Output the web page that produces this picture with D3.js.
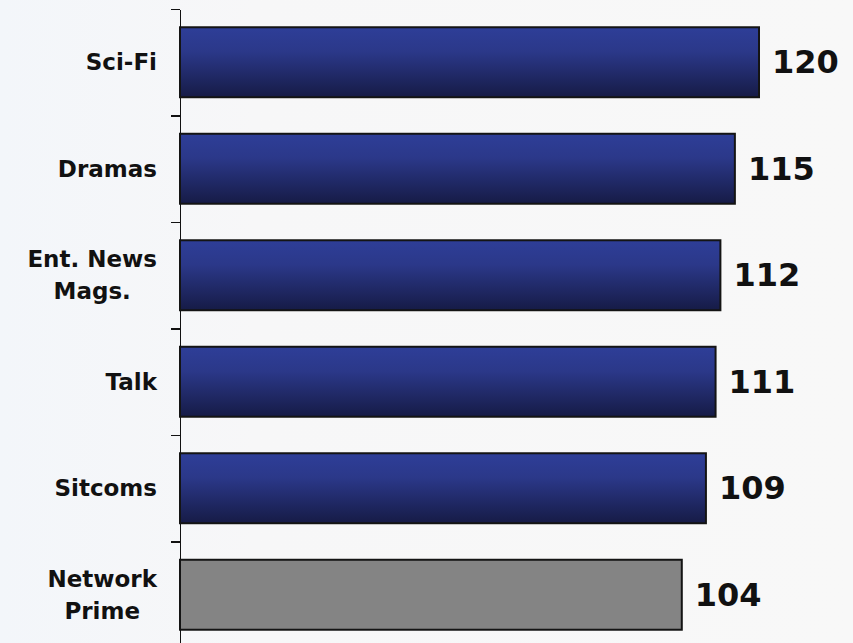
<!DOCTYPE html>
<html>
<head>
    <meta charset="utf-8">
    <title>Index by genre - horizontal bars</title>
    <style>
        body {
            margin: 0;
            padding: 0;
            background: #f7f7f7;
        }

        svg {
            display: block;
        }

        .label {
            font-family: "DejaVu Sans", Verdana, sans-serif;
            font-weight: bold;
            fill: #111;
        }

        .axis path,
        .axis line {
            fill: none;
            stroke: #111;
            stroke-width: 1.5px;
            shape-rendering: crispEdges;
        }
    </style>
    <script src="https://d3js.org/d3.v7.min.js"></script>
</head>
<body>
<script type="application/javascript">
  // categories top to bottom, each label split on its line breaks
  var categories = ["Sci-Fi", "Dramas", "Ent. News\nMags.", "Talk", "Sitcoms", "Network\nPrime"];
  var values = [120, 115, 112, 111, 109, 104];
  var highlight = [false, false, false, false, false, true]; // the baseline bar is grey

  var width = 853, height = 643;
  var margin = {top: 9, left: 180};
  var labelRight = 157;

  var svg = d3.select("body")
              .append("svg")
              .attr("width", width)
              .attr("height", height);

  // faint background, slightly bluish on the left
  var defs = svg.append("defs");
  var bg = defs.append("linearGradient")
               .attr("id", "bg")
               .attr("x1", "0").attr("x2", "1").attr("y1", "0").attr("y2", "0");
  bg.append("stop").attr("offset", "0").attr("stop-color", "#f3f6fa");
  bg.append("stop").attr("offset", "0.3").attr("stop-color", "#f7f7f8");
  bg.append("stop").attr("offset", "1").attr("stop-color", "#f8f8f8");

  var barGrad = defs.append("linearGradient")
                    .attr("id", "barBlue")
                    .attr("x1", "0").attr("x2", "0").attr("y1", "0").attr("y2", "1");
  barGrad.append("stop").attr("offset", "0").attr("stop-color", "#2e3e98");
  barGrad.append("stop").attr("offset", "0.35").attr("stop-color", "#2b3889");
  barGrad.append("stop").attr("offset", "1").attr("stop-color", "#161b46");

  svg.append("rect")
     .attr("width", width)
     .attr("height", height)
     .attr("fill", "url(#bg)");

  var data = categories.map(function (c, i) {
    return {name: c, value: values[i], grey: highlight[i]};
  });

  var xscale = d3.scaleLinear()
                 .domain([0, 120])
                 .range([margin.left, 759]);

  var yscale = d3.scaleBand()
                 .domain(categories)
                 .range([margin.top, 648])
                 .paddingInner(0.343)
                 .paddingOuter(0.1715);

  // ticks sit on the band boundaries
  var tickscale = d3.scaleLinear()
                    .domain([0, categories.length])
                    .range([margin.top, 648]);

  svg.append("g")
     .attr("class", "axis")
     .attr("transform", "translate(" + margin.left + ",0)")
     .call(d3.axisLeft(tickscale)
             .tickValues(d3.range(categories.length + 1))
             .tickSize(9)
             .tickSizeOuter(0)
             .tickFormat(""));

  svg.selectAll(".bar")
     .data(data)
     .enter()
     .append("rect")
     .attr("class", "bar")
     .attr("x", xscale(0))
     .attr("y", function (d) { return yscale(d.name); })
     .attr("width", function (d) { return xscale(d.value) - xscale(0); })
     .attr("height", yscale.bandwidth())
     .attr("fill", function (d) { return d.grey ? "#848484" : "url(#barBlue)"; })
     .attr("stroke", "#141414")
     .attr("stroke-width", 2);

  // value labels at the bar ends
  svg.selectAll(".val")
     .data(data)
     .enter()
     .append("text")
     .attr("class", "label val")
     .attr("x", function (d) { return xscale(d.value) + 13; })
     .attr("y", function (d) { return yscale(d.name) + yscale.bandwidth() / 2 + 11; })
     .style("font-size", "32px")
     .text(function (d) { return d.value; });

  // category labels; two-line ones are centred as a block, block right aligned
  var cat = svg.selectAll(".cat")
               .data(data)
               .enter()
               .append("text")
               .attr("class", "label cat")
               .style("font-size", "23px")
               .attr("y", function (d) {
                 var n = d.name.split("\n").length;
                 return yscale(d.name) + yscale.bandwidth() / 2 + 8 - (n - 1) * 16;
               });

  cat.selectAll("tspan")
     .data(function (d) { return d.name.split("\n"); })
     .enter()
     .append("tspan")
     .attr("dy", function (d, i) { return i === 0 ? 0 : 32; })
     .text(function (d) { return d; });

  cat.each(function () {
    var t = d3.select(this);
    var spans = t.selectAll("tspan");
    var w = 0;
    spans.each(function () { w = Math.max(w, this.getComputedTextLength()); });
    t.attr("text-anchor", "middle");
    spans.attr("x", labelRight - w / 2);
  });
</script>
</body>
</html>
